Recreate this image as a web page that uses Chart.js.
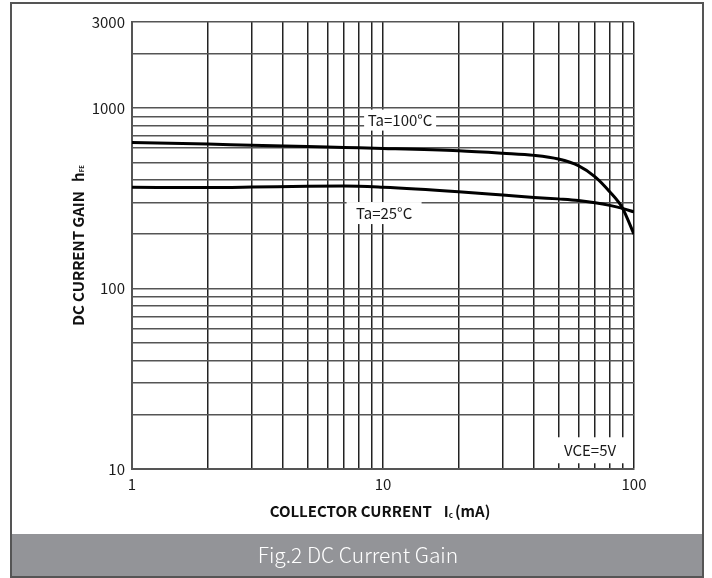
<!DOCTYPE html>
<html>
<head>
<meta charset="utf-8">
<script src="https://cdn.jsdelivr.net/npm/chart.js@4.4.0/dist/chart.umd.min.js"></script>
<style>
  html, body { margin: 0; padding: 0; background: #fff; }
  canvas { display: block; }
</style>
</head>
<body>
<canvas id="hfe_chart" width="712" height="578"></canvas>
<script>
// collector current (mA) and hFE
const currentMa = [1, 2, 3, 5, 7, 10, 20, 30, 40, 50, 60, 70, 80, 90, 100];
const gain100C = [645, 632, 622, 612, 605, 598, 580, 562, 547, 522, 480, 416, 344, 279, 200];
const gain25C = [364, 363, 365, 369, 370, 364, 344, 330, 320, 314, 308, 299, 289, 278, 266];

const xTickLabels = [1, 10, 100];
const yTickLabels = [10, 100, 1000, 3000];
const xGridValues = [1, 2, 3, 4, 5, 6, 7, 8, 9, 10, 20, 30, 40, 50, 60, 70, 80, 90, 100];
const yGridValues = [10, 20, 30, 40, 50, 60, 70, 80, 90, 100, 200, 300, 400, 500, 600, 700, 800, 900, 1000, 2000, 3000];

const FONT = '"Noto Sans CJK SC", "Noto Sans", sans-serif';

// text labels on the plot: [text, x value, y value, box w, box h]
const notes = [
  ['Ta=100°C', 11.7, 858, 72, 21],
  ['Ta=25°C', 10.1, 262, 75, 22],
  ['VCE=5V', 66.8, 12.7, 80, 26]
];

const toPoints = ys => currentMa.map((x, i) => ({ x: x, y: ys[i] }));

// draw a string made of parts (for subscripts), starting at x
function drawParts(ctx, parts, x, y) {
  parts.forEach(p => {
    ctx.font = p.font;
    ctx.fillText(p.text, x, y + (p.dy || 0));
    x += ctx.measureText(p.text).width + (p.gap || 0);
  });
}
function partsWidth(ctx, parts) {
  let w = 0;
  parts.forEach(p => { ctx.font = p.font; w += ctx.measureText(p.text).width + (p.gap || 0); });
  return w;
}

const decor = {
  id: 'decor',
  beforeDraw(chart) {
    const ctx = chart.ctx;
    ctx.save();
    ctx.fillStyle = '#fff';
    ctx.fillRect(0, 0, chart.width, chart.height);
    // caption bar
    ctx.fillStyle = '#939498';
    ctx.fillRect(11, 534, 692, 43);
    ctx.strokeStyle = '#555';
    ctx.lineWidth = 2;
    ctx.strokeRect(11, 3, 692, 574);
    ctx.fillStyle = '#fff';
    ctx.font = '300 21px ' + FONT;
    ctx.textAlign = 'center';
    ctx.textBaseline = 'middle';
    ctx.fillText('Fig.2 DC Current Gain', 358, 555);
    ctx.restore();
  },
  beforeDatasetsDraw(chart) {
    const ctx = chart.ctx;
    const xs = chart.scales.x, ys = chart.scales.y;
    ctx.save();
    ctx.textAlign = 'center';
    ctx.textBaseline = 'middle';
    notes.forEach(n => {
      const px = xs.getPixelForValue(n[1]);
      const py = ys.getPixelForValue(n[2]);
      ctx.fillStyle = '#fff';
      ctx.fillRect(px - n[3] / 2, py - n[4] / 2, n[3], n[4]);
      ctx.fillStyle = '#1a1a1a';
      ctx.font = '15px ' + FONT;
      ctx.fillText(n[0], px, py);
    });
    ctx.restore();

    // axis titles
    ctx.save();
    ctx.fillStyle = '#111';
    ctx.textAlign = 'left';
    ctx.textBaseline = 'middle';
    const bold = 'bold 15px ' + FONT;
    const sub = 'bold 8px ' + FONT;
    const xParts = [
      { text: 'COLLECTOR CURRENT', font: bold, gap: 12 },
      { text: 'I', font: bold },
      { text: 'c', font: sub, dy: 4, gap: 2 },
      { text: '(mA)', font: bold }
    ];
    const cx = (chart.chartArea.left + chart.chartArea.right) / 2 - 3;
    drawParts(ctx, xParts, cx - partsWidth(ctx, xParts) / 2, 511);

    const yParts = [
      { text: 'DC CURRENT GAIN', font: bold, gap: 9 },
      { text: 'h', font: bold },
      { text: 'FE', font: 'bold 6px ' + FONT, dy: 4 }
    ];
    ctx.translate(78, (chart.chartArea.top + chart.chartArea.bottom) / 2);
    ctx.rotate(-Math.PI / 2);
    drawParts(ctx, yParts, -partsWidth(ctx, yParts) / 2, 0);
    ctx.restore();
  }
};

new Chart(document.getElementById('hfe_chart'), {
  type: 'line',
  data: {
    datasets: [
      {
        label: 'Ta=100°C',
        data: toPoints(gain100C),
        borderColor: '#000',
        borderWidth: 3,
        pointRadius: 0,
        cubicInterpolationMode: 'monotone'
      },
      {
        label: 'Ta=25°C',
        data: toPoints(gain25C),
        borderColor: '#000',
        borderWidth: 3,
        pointRadius: 0,
        cubicInterpolationMode: 'monotone'
      }
    ]
  },
  options: {
    responsive: false,
    animation: false,
    devicePixelRatio: 1,
    layout: { padding: { left: 0, top: 22, right: 78, bottom: 69 } },
    plugins: {
      legend: { display: false },
      tooltip: { enabled: false }
    },
    scales: {
      x: {
        type: 'logarithmic',
        min: 1,
        max: 100,
        afterBuildTicks: s => { s.ticks = xGridValues.map(v => ({ value: v })); },
        afterFit: s => { s.height = 40; },
        ticks: {
          autoSkip: false,
          maxRotation: 0,
          padding: 6,
          color: '#1a1a1a',
          font: { family: FONT, size: 15 },
          callback: v => xTickLabels.includes(v) ? String(v) : ''
        },
        grid: { color: '#222', lineWidth: 1.5, drawTicks: false },
        border: { color: '#555', width: 2 }
      },
      y: {
        type: 'logarithmic',
        min: 10,
        max: 3000,
        afterBuildTicks: s => { s.ticks = yGridValues.map(v => ({ value: v })); },
        afterFit: s => { s.width = 132; },
        ticks: {
          autoSkip: false,
          padding: 7,
          color: '#1a1a1a',
          font: { family: FONT, size: 15 },
          callback: v => yTickLabels.includes(v) ? String(v) : ''
        },
        grid: { color: '#555', lineWidth: 1.5, drawTicks: false },
        border: { color: '#555', width: 2 }
      }
    }
  },
  plugins: [decor]
});
</script>
</body>
</html>
